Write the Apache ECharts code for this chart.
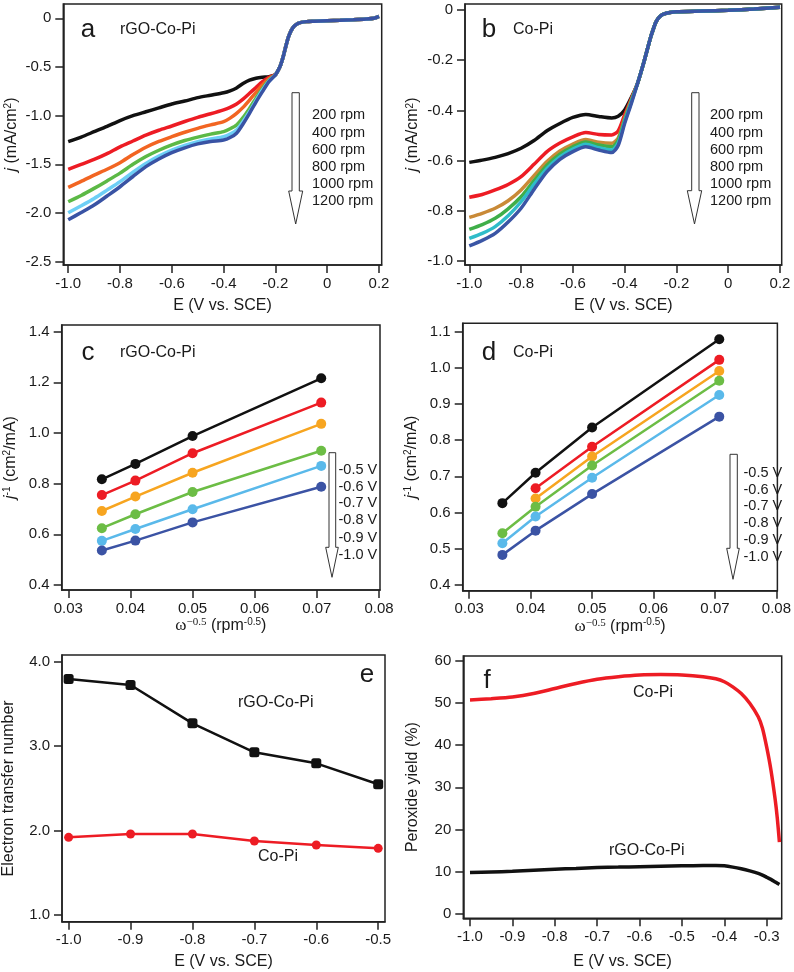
<!DOCTYPE html>
<html><head><meta charset="utf-8">
<script src="https://cdn.jsdelivr.net/npm/echarts@6/dist/echarts.min.js"></script>
<style>html,body{margin:0;padding:0;background:#fff}#c{width:794px;height:972px}</style>
</head><body><div id="c"></div>
<script>
// ---------- Panel a: rGO-Co-Pi LSV ----------
const aHeadE = [-1.0,-0.95,-0.9,-0.85,-0.8,-0.75,-0.7,-0.65,-0.6,-0.55,-0.5,-0.45,-0.4,-0.375,-0.35,-0.325,-0.3,-0.275,-0.25,-0.225];
const aTailE = [-0.2,-0.19,-0.18,-0.17,-0.16,-0.15,-0.14,-0.13,-0.12,-0.11,-0.1,-0.08,-0.05,0,0.05,0.1,0.15,0.18,0.2];
const aTailJ = [-0.58,-0.537,-0.48,-0.394,-0.29,-0.195,-0.13,-0.087,-0.065,-0.05,-0.042,-0.034,-0.03,-0.024,-0.02,-0.015,-0.008,0.0,0.02];
const a200  = [-1.267,-1.22,-1.165,-1.11,-1.05,-1.0,-0.96,-0.92,-0.88,-0.85,-0.815,-0.79,-0.765,-0.745,-0.715,-0.67,-0.635,-0.615,-0.605,-0.6];
const a400  = [-1.551,-1.50,-1.45,-1.39,-1.32,-1.26,-1.2,-1.15,-1.106,-1.06,-1.017,-0.98,-0.94,-0.915,-0.88,-0.83,-0.77,-0.71,-0.65,-0.605];
const a600  = [-1.736,-1.675,-1.61,-1.55,-1.483,-1.40,-1.325,-1.265,-1.216,-1.17,-1.13,-1.095,-1.062,-1.025,-0.976,-0.915,-0.84,-0.76,-0.685,-0.62];
const a800  = [-1.884,-1.82,-1.747,-1.67,-1.59,-1.50,-1.42,-1.355,-1.30,-1.255,-1.22,-1.19,-1.164,-1.135,-1.096,-1.02,-0.925,-0.82,-0.72,-0.635];
const a1000 = [-1.997,-1.925,-1.85,-1.765,-1.678,-1.58,-1.49,-1.415,-1.353,-1.305,-1.267,-1.24,-1.216,-1.19,-1.147,-1.06,-0.96,-0.845,-0.736,-0.645];
const a1200 = [-2.07,-1.995,-1.918,-1.825,-1.73,-1.625,-1.524,-1.445,-1.38,-1.33,-1.29,-1.265,-1.25,-1.225,-1.18,-1.085,-0.976,-0.86,-0.753,-0.65];

// ---------- Panel b: Co-Pi LSV ----------
const bHeadE = [-1.0,-0.95,-0.9,-0.85,-0.8,-0.75,-0.7,-0.65,-0.6,-0.55,-0.5,-0.45,-0.425,-0.4,-0.375];
const bTailE = [-0.35,-0.325,-0.3,-0.29,-0.28,-0.27,-0.26,-0.25,-0.225,-0.2,-0.1,0,0.1,0.2];
const bTailJ = [-0.292,-0.205,-0.11,-0.078,-0.05,-0.033,-0.022,-0.016,-0.01,-0.007,-0.004,-0.001,0.004,0.011];
const b200  = [-0.607,-0.598,-0.587,-0.572,-0.551,-0.52,-0.481,-0.452,-0.428,-0.416,-0.424,-0.43,-0.423,-0.398,-0.35];
const b400  = [-0.746,-0.735,-0.717,-0.695,-0.664,-0.615,-0.564,-0.53,-0.505,-0.488,-0.496,-0.498,-0.482,-0.418,-0.355];
const b600  = [-0.826,-0.81,-0.79,-0.76,-0.717,-0.66,-0.604,-0.562,-0.534,-0.516,-0.527,-0.531,-0.51,-0.432,-0.36];
const b800  = [-0.874,-0.855,-0.83,-0.792,-0.744,-0.68,-0.618,-0.574,-0.545,-0.526,-0.538,-0.545,-0.52,-0.438,-0.365];
const b1000 = [-0.91,-0.89,-0.863,-0.82,-0.764,-0.695,-0.631,-0.585,-0.554,-0.535,-0.549,-0.558,-0.53,-0.445,-0.37];
const b1200 = [-0.94,-0.918,-0.89,-0.845,-0.79,-0.715,-0.644,-0.595,-0.564,-0.545,-0.558,-0.568,-0.54,-0.452,-0.375];

// ---------- Panel c / d: Koutecky-Levich ----------
const klX = [0.0354, 0.0408, 0.05, 0.0707];
const c05 = [0.817, 0.878, 0.988, 1.216];
const c06 = [0.755, 0.812, 0.920, 1.120];
const c07 = [0.692, 0.749, 0.843, 1.036];
const c08 = [0.624, 0.679, 0.767, 0.930];
const c09 = [0.574, 0.621, 0.699, 0.870];
const c10 = [0.536, 0.575, 0.647, 0.788];
const d05 = [0.626, 0.710, 0.835, 1.079];
const d06 = [null, 0.667, 0.782, 1.022];
const d07 = [null, 0.639, 0.755, 0.991];
const d08 = [0.543, 0.616, 0.730, 0.964];
const d09 = [0.515, 0.589, 0.696, 0.925];
const d10 = [0.483, 0.550, 0.651, 0.865];

// ---------- Panel e: electron transfer number ----------
const eE = [-1.0, -0.9, -0.8, -0.7, -0.6, -0.5];
const eRGO = [3.795, 3.724, 3.27, 2.927, 2.796, 2.548];
const eCoPi = [1.92, 1.96, 1.96, 1.876, 1.829, 1.79];

// ---------- Panel f: peroxide yield ----------
const fE = [-1.0,-0.95,-0.9,-0.85,-0.8,-0.75,-0.7,-0.65,-0.6,-0.55,-0.5,-0.45,-0.42,-0.4,-0.38,-0.36,-0.34,-0.32,-0.31,-0.30,-0.29,-0.28,-0.275,-0.27];
const fCoPi = [50.7,51.0,51.4,52.2,53.4,54.6,55.6,56.2,56.6,56.7,56.6,56.2,55.7,55.0,53.8,52.2,49.9,46.7,44.0,39.5,34.1,27.1,22.7,17.0];
const fRGO  = [9.8,9.95,10.1,10.35,10.6,10.8,11.0,11.1,11.2,11.3,11.4,11.5,11.5,11.4,11.1,10.7,10.2,9.6,9.2,8.7,8.2,7.6,7.3,7.0];

// ---------- tick labels ----------
const ticksAx = [-1.0,-0.8,-0.6,-0.4,-0.2,0,0.2];
const ticksAy = [0,-0.5,-1.0,-1.5,-2.0,-2.5];
const ticksBy = [0,-0.2,-0.4,-0.6,-0.8,-1.0];
const ticksKLx = [0.03,0.04,0.05,0.06,0.07,0.08];
const ticksCy = [0.4,0.6,0.8,1.0,1.2,1.4];
const ticksDy = [0.4,0.5,0.6,0.7,0.8,0.9,1.0,1.1];
const ticksEx = [-1.0,-0.9,-0.8,-0.7,-0.6,-0.5];
const ticksEy = [1.0,2.0,3.0,4.0];
const ticksFx = [-1.0,-0.9,-0.8,-0.7,-0.6,-0.5,-0.4,-0.3];
const ticksFy = [0,10,20,30,40,50,60];
const rpmLabels = ['200 rpm','400 rpm','600 rpm','800 rpm','1000 rpm','1200 rpm'];
const voltLabels = ['-0.5 V','-0.6 V','-0.7 V','-0.8 V','-0.9 V','-1.0 V'];

const FONT = "'Liberation Sans', Arial, sans-serif";
const SERIF = "'Liberation Serif', 'Times New Roman', serif";
const TXT = '#1a1a1a';
const AX = '#222';

const f1 = v => (Math.abs(v) < 1e-9 ? '0' : v.toFixed(1));
const f2 = v => v.toFixed(2);
const f0 = v => v.toFixed(0);

const supRich = {
  i: {fontStyle:'italic', fontSize:16, fontFamily:FONT, color:TXT},
  sup: {fontSize:10, fontFamily:FONT, color:TXT, verticalAlign:'top', lineHeight:10},
  w: {fontSize:17, fontFamily:SERIF, color:TXT},
  ws: {fontSize:11, fontFamily:SERIF, color:TXT, verticalAlign:'top', lineHeight:10}
};

function xAx(gi, min, max, vals, fmt, name, gap) {
  return {type:'value', gridIndex:gi, min, max, position:'bottom',
    axisLine:{show:true, onZero:false, lineStyle:{color:AX, width:1.5}},
    axisTick:{show:true, inside:false, length:8, customValues:vals, lineStyle:{color:AX, width:1.5}},
    axisLabel:{customValues:vals, formatter:fmt, margin:11, fontSize:15, color:TXT, fontFamily:FONT, hideOverlap:false},
    splitLine:{show:false},
    name, nameLocation:'middle', nameGap:gap,
    nameTextStyle:{fontSize:16, color:TXT, fontFamily:FONT, rich:supRich}};
}
function yAx(gi, min, max, vals, fmt, name, gap) {
  return {type:'value', gridIndex:gi, min, max, position:'left',
    axisLine:{show:true, onZero:false, lineStyle:{color:AX, width:1.5}},
    axisTick:{show:true, inside:false, length:8, customValues:vals, lineStyle:{color:AX, width:1.5}},
    axisLabel:{customValues:vals, formatter:fmt, margin:12, fontSize:15, color:TXT, fontFamily:FONT, hideOverlap:false},
    splitLine:{show:false},
    name, nameLocation:'middle', nameGap:gap,
    nameTextStyle:{fontSize:16, color:TXT, fontFamily:FONT, rich:supRich}};
}
function zip(xs, ys) { const out=[]; for (let i=0;i<xs.length;i++) if (ys[i]!==null) out.push([xs[i], ys[i]]); return out; }
function curve(gi, xs, ys, color, w) {
  return {type:'line', xAxisIndex:gi, yAxisIndex:gi, data:zip(xs, ys), showSymbol:false, smooth:0.25,
    lineStyle:{color, width:w}, itemStyle:{color}, silent:true, animation:false};
}
function pts(gi, xs, ys, color, sym, size, w) {
  return {type:'line', xAxisIndex:gi, yAxisIndex:gi, data:zip(xs, ys), symbol:sym, symbolSize:size, showSymbol:true,
    lineStyle:{color, width:w}, itemStyle:{color}, silent:true, animation:false};
}
function T(x, y, text, size, align) {
  return {type:'text', x, y, silent:true, style:{text, font:size+'px '+FONT, fill:TXT, align:align||'left', verticalAlign:'middle'}};
}
function arrow(sl, sr, top, ht, hl, hr, tipy) {
  const tx = (hl+hr)/2;
  return {type:'polygon', silent:true, shape:{points:[[sl,top],[sr,top],[sr,ht],[hr,ht],[tx,tipy],[hl,ht],[sl,ht]]},
    style:{fill:'#fff', stroke:'#333', lineWidth:1}};
}

const colA = ['#111111','#ed1c24','#f26522','#5cb946','#6dcff6','#3953a4'];
const colB = ['#111111','#ed1c24','#c98a37','#3fae49','#2fbcc9','#3a55a5'];
const colKL = ['#111111','#ed1c24','#f7a520','#6cbd45','#5ab9ea','#3b53a4'];
const RED = '#ed1c24';

const series = [];
const aE = aHeadE.concat(aTailE);
[a200,a400,a600,a800,a1000,a1200].forEach((s,i)=>series.push(curve(0, aE, s.concat(aTailJ), colA[i], 3.5)));
const bE = bHeadE.concat(bTailE);
[b200,b400,b600,b800,b1000,b1200].forEach((s,i)=>series.push(curve(1, bE, s.concat(bTailJ), colB[i], 3.5)));
[c05,c06,c07,c08,c09,c10].forEach((s,i)=>series.push(pts(2, klX, s, colKL[i], 'circle', 10, 2.5)));
[d05,d06,d07,d08,d09,d10].forEach((s,i)=>series.push(pts(3, klX, s, colKL[i], 'circle', 10, 2.5)));
series.push(pts(4, eE, eRGO, '#111111', 'roundRect', 10, 2.5));
series.push(pts(4, eE, eCoPi, RED, 'circle', 9, 2.5));
series.push(curve(5, fE, fCoPi, RED, 3.5));
series.push(curve(5, fE, fRGO, '#111111', 3.5));

const gridStyle = {show:true, borderColor:AX, borderWidth:1.5, backgroundColor:'transparent', containLabel:false};
const option = {
  animation:false,
  backgroundColor:'#fff',
  grid:[
    Object.assign({left:63.3, top:4, width:318.4, height:261}, gridStyle),
    Object.assign({left:465, top:4, width:316.7, height:261}, gridStyle),
    Object.assign({left:61.7, top:325, width:318.3, height:265}, gridStyle),
    Object.assign({left:462.7, top:323.3, width:318.3, height:267.4}, gridStyle),
    Object.assign({left:61.7, top:655, width:323.3, height:266.7}, gridStyle),
    Object.assign({left:463.3, top:656, width:318.4, height:262.3}, gridStyle)
  ],
  xAxis:[
    xAx(0, -1.019, 0.2104, ticksAx, f1, 'E (V vs. SCE)', 33),
    xAx(1, -1.0166, 0.2066, ticksAx, f1, 'E (V vs. SCE)', 33),
    xAx(2, 0.02894, 0.08016, ticksKLx, f2, '{w|ω}{ws|−0.5} (rpm{sup|-0.5})', 27),
    xAx(3, 0.02894, 0.08016, ticksKLx, f2, '{w|ω}{ws|−0.5} (rpm{sup|-0.5})', 27),
    xAx(4, -1.0107, -0.489, ticksEx, f1, 'E (V vs. SCE)', 32),
    xAx(5, -1.0158, -0.2646, ticksFx, f1, 'E (V vs. SCE)', 35)
  ],
  yAxis:[
    yAx(0, -2.534, 0.147, ticksAy, f1, '{i|j} (mA/cm{sup|2})', 44),
    yAx(1, -1.016, 0.024, ticksBy, f1, '{i|j} (mA/cm{sup|2})', 44),
    yAx(2, 0.380, 1.4264, ticksCy, f1, '{i|j}{sup|-1} (cm{sup|2}/mA)', 43),
    yAx(3, 0.384, 1.123, ticksDy, f1, '{i|j}{sup|-1} (cm{sup|2}/mA)', 43),
    yAx(4, 0.921, 4.079, ticksEy, f1, 'Electron transfer number', 45),
    yAx(5, -1.02, 61.1, ticksFy, f0, 'Peroxide yield (%)', 43)
  ],
  series,
  graphic:{elements:[
    T(88,30,'a',26,'center'), T(120,30,'rGO-Co-Pi',16),
    T(489,30,'b',26,'center'), T(513,30,'Co-Pi',16),
    T(88,353,'c',26,'center'), T(120,353,'rGO-Co-Pi',16),
    T(489,353,'d',26,'center'), T(513,353,'Co-Pi',16),
    T(367,675,'e',26,'center'), T(238,703,'rGO-Co-Pi',16), T(258,857,'Co-Pi',16),
    T(487,681,'f',26,'center'), T(633,693,'Co-Pi',16), T(609,851,'rGO-Co-Pi',16),
    arrow(292,299.3,92.7,191,288.7,302.7,224),
    arrow(691.7,699,92.7,190.7,687.3,701.7,224),
    arrow(329,335.7,452.7,547.3,325.7,338.3,577.3),
    arrow(730,737.3,454.3,548.3,726.7,739.3,579.3)
  ].concat(
    rpmLabels.map((t,i)=>T(312,[115,132.7,150,166.7,184,201][i],t,14.5)),
    rpmLabels.map((t,i)=>T(710,[115,132.7,150,166.7,184,201][i],t,14.5)),
    voltLabels.map((t,i)=>T(338.5,[470,486.7,503,520,537.7,555][i],t,14.5)),
    voltLabels.map((t,i)=>T(743.5,[473.3,489.5,506,522.5,539.5,557][i],t,14.5))
  )}
};
const chart = echarts.init(document.getElementById('c'), null, {renderer:'canvas', width:794, height:972});
chart.setOption(option);
</script></body></html>
